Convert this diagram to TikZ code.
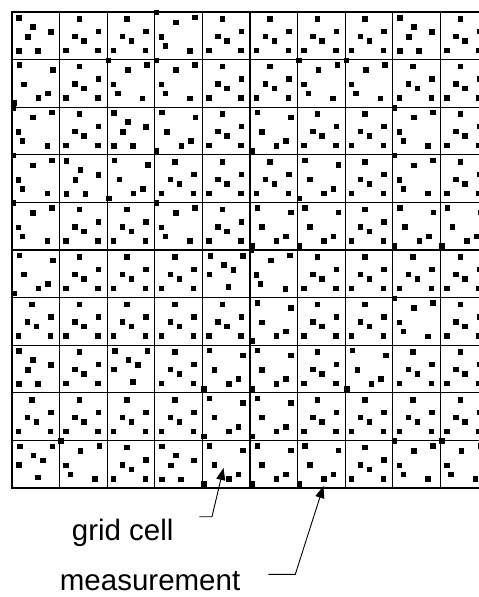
\documentclass[tikz,border=0pt]{standalone}
\usepackage{fontspec}
\setmainfont{Liberation Sans}
\usetikzlibrary{arrows.meta}
\def\TA{20/7,39/19.5,15.5/24.5,24.5/29,6.5/38.5,38.5/38.5}
\def\TB{7.3/5.5,40.8/10.3,12.2/24.7,36/34,26.5/38.6,1.8/43.6}
\def\TC{7/6,21/15,39/20,16/25,7/39,26/39}
\def\TD{1.5/0.7,21/10.5,40/5.5,6.5/25,10.7/34,35.3/38.8}
\def\TE{8/6,40.5/6,21.5/15,31/20,7/24.5,26/37}
\tikzset{
  gridline/.style={line width=1.1pt, line cap=rect, black},
  leader/.style={line width=0.9pt, black, -{Triangle[length=12pt,width=9pt]}},
  label/.style={inner sep=0pt, anchor=base west, font=\fontsize{29.5}{32}\selectfont},
  meas/.style={fill=black}
}
\begin{document}
\begin{tikzpicture}[x=1pt,y=-1pt]
\useasboundingbox (0,0) rectangle (479,597);
\clip (0,0) rectangle (479,597);
\fill[white] (0,0) rectangle (479,597);
% grid
\foreach \k in {0,...,10} {
  \draw[gridline] ({12+47.6*\k},12) -- ({12+47.6*\k},488);
  \draw[gridline] (12,{12+47.6*\k}) -- (488,{12+47.6*\k});
}
% measurements
\foreach \rr/\codes in {
  0/{3,1,1,4,1,1,1,1,3,1},
  1/{2,1,4,4,1,1,4,4,1,1},
  2/{4,1,3,2,1,2,1,1,4,1},
  3/{4,3,2,1,1,1,2,1,4,1},
  4/{4,1,1,4,1,2,2,1,2,2},
  5/{2,1,1,1,5,4,1,1,1,1},
  6/{1,1,1,1,1,2,1,1,4,1},
  7/{3,1,5,1,2,2,1,2,1,1},
  8/{1,1,1,1,2,2,1,1,1,1},
  9/{5,4,1,3,2,2,2,1,4,4}} {
  \foreach \tp [count=\cc from 0] in \codes {
    \edef\tpl{\ifcase\tp\or\TA\or\TB\or\TC\or\TD\or\TE\fi}
    \foreach \px/\py in \tpl {
      \fill[meas] ({12+47.6*\cc+\px-2.75},{12+47.6*\rr+\py-2.75}) rectangle ++(5.5,5.5);
    }
  }
}
% labels
\node[label] (gridcell) at (71.7,540.7) {grid cell};
\node[label] (measurement) at (59.7,590.5) {measurement};
\coordinate (gcA) at (199.3,516.7);
\coordinate (gcB) at (212,516.7);
\coordinate (gcTip) at (223.5,468);
\coordinate (msA) at (268.3,574.3);
\coordinate (msB) at (295.3,574.3);
\coordinate (msTip) at (323.5,486);
\draw[leader] (gcA) -- (gcB) -- (gcTip);
\draw[leader] (msA) -- (msB) -- (msTip);
\end{tikzpicture}
\end{document}
